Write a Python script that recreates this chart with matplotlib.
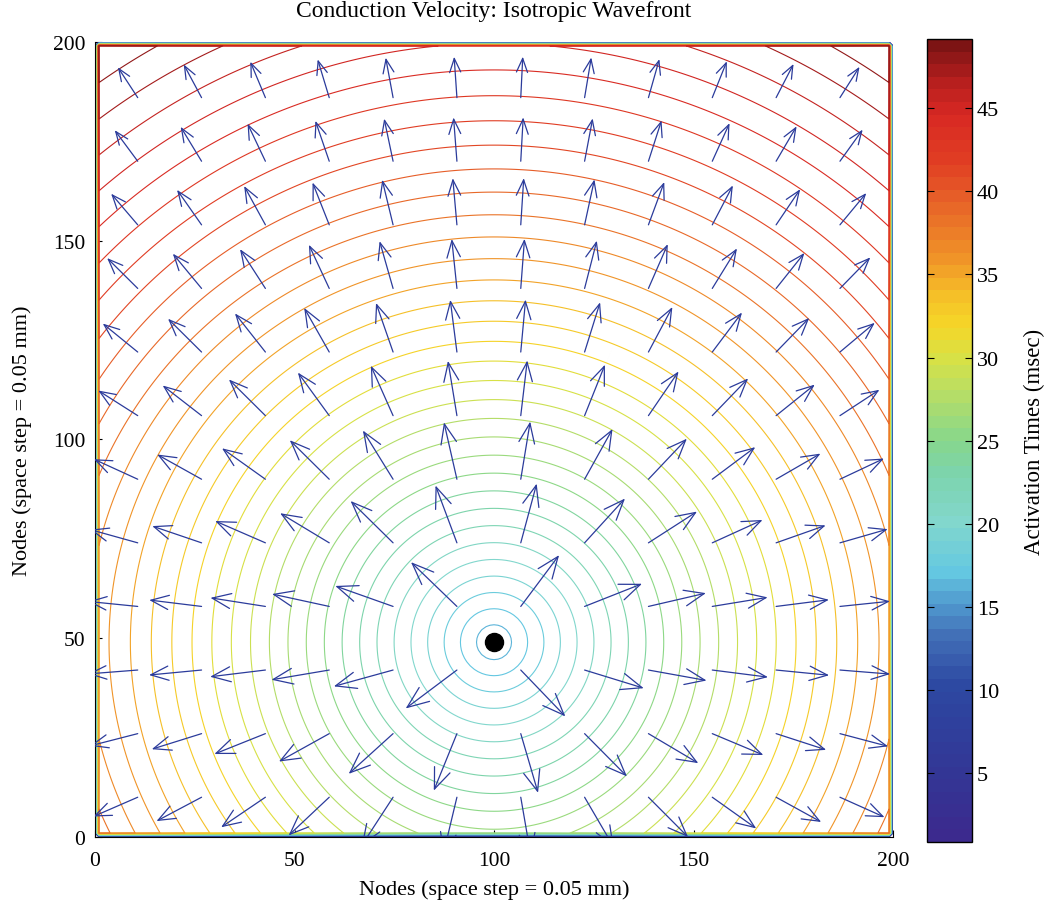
import numpy as np
import matplotlib
matplotlib.use('Agg')
import matplotlib.pyplot as plt
from matplotlib.colors import LinearSegmentedColormap, Normalize
from matplotlib.cm import ScalarMappable

plt.rcParams['font.family'] = ['Liberation Serif', 'DejaVu Serif']

# nodes of the sheet and the pacing site
n_nodes = 200
source_x, source_y = 100, 49
# activation time against distance r from the pacing site:
# T = t0 + a*r - b*r**2  (msec)
t0, a, b = 14.9, 0.2523, 3.485e-4
# contour levels (msec) and colorbar range
levels = np.arange(1, 50)
cbar_min, cbar_max = 0.85, 49.15
cbar_ticks = [5, 10, 15, 20, 25, 30, 35, 40, 45]
axis_ticks = [0, 50, 100, 150, 200]
# where the velocity arrows are drawn
arrow_x = [10.7, 26.7, 42.7, 58.7, 74.7, 90.7, 106.7, 122.7, 138.7, 154.7, 170.7, 186.7]
arrow_y = [10, 26, 42, 58, 74, 90, 106, 122, 138, 154, 170, 186]
arrow_scale = 65.8

# colormap sampled from the colorbar (value in msec, rgb)
cmap_vals = [0.85, 5, 10, 13, 15, 17, 20, 23, 25, 28, 30, 32, 34, 36, 40, 42, 45, 47, 49.15]
cmap_rgb = [(60, 42, 142), (50, 55, 150), (45, 72, 162), (65, 110, 182), (80, 152, 206),
            (100, 200, 225), (130, 215, 205), (125, 212, 172), (135, 215, 140),
            (185, 222, 100), (215, 225, 70), (245, 215, 40), (245, 190, 40),
            (240, 150, 40), (230, 92, 40), (225, 62, 35), (215, 40, 35),
            (180, 30, 30), (125, 20, 20)]

pos = [(v - cbar_min) / (cbar_max - cbar_min) for v in cmap_vals]
cols = [tuple(c / 255 for c in rgb) for rgb in cmap_rgb]
cmap = LinearSegmentedColormap.from_list('act', list(zip(pos, cols)), N=64)
norm = Normalize(vmin=cbar_min, vmax=cbar_max)

# activation time field
xs = np.arange(0, n_nodes + 1)
X, Y = np.meshgrid(xs, xs)
R = np.hypot(X - source_x, Y - source_y)
T = t0 + a * R - b * R ** 2
# unpaced border nodes
T[0, :] = 0
T[-1, :] = 0
T[:, 0] = 0
T[:, -1] = 0

fig = plt.figure(figsize=(10.5, 9.03), dpi=100)
ax = fig.add_axes([0.0905, 0.072, 0.76, 0.8804])
cax = fig.add_axes([0.8829, 0.0664, 0.0429, 0.889])

ax.contour(X, Y, T, levels=levels, cmap=cmap, norm=norm, linewidths=0.8)

# velocity arrows from the gradient of the activation time
AX, AY = np.meshgrid(arrow_x, arrow_y)
dx = AX - source_x
dy = AY - source_y
r = np.hypot(dx, dy)
g = a - 2 * b * r
U = arrow_scale * g * dx / r
V = arrow_scale * g * dy / r
px_per_unit = 0.76 * 1050 / n_nodes
for x0, y0, u, v in zip(AX.ravel(), AY.ravel(), U.ravel(), V.ravel()):
    L_pt = np.hypot(u, v) * px_per_unit * 0.72
    ann = ax.annotate('', xy=(x0 + u, y0 + v), xytext=(x0, y0), annotation_clip=False,
                      arrowprops=dict(arrowstyle='->,head_length=0.45,head_width=0.18',
                                      color='#2b3b9b', lw=0.9, shrinkA=0, shrinkB=0,
                                      mutation_scale=0.75 * L_pt))
    ann.arrow_patch.set_clip_on(True)
    ann.arrow_patch.set_clip_path(ax.patch)

ax.plot([source_x], [source_y], 'o', color='black', markersize=13, zorder=5)

ax.set_xlim(0, n_nodes)
ax.set_ylim(0, n_nodes)
ax.set_xticks(axis_ticks)
ax.set_yticks(axis_ticks)
ax.tick_params(direction='in', labelsize=15.5, length=5)
ax.tick_params(axis='x', pad=10)
ax.tick_params(axis='y', pad=7)
ax.spines['top'].set_visible(False)
ax.spines['right'].set_visible(False)
ax.set_xlabel('Nodes (space step = 0.05 mm)', fontsize=16, labelpad=7)
ax.set_ylabel('Nodes (space step = 0.05 mm)', fontsize=16, labelpad=15)
ax.set_title('Conduction Velocity: Isotropic Wavefront', fontsize=17, pad=19)

sm = ScalarMappable(norm=norm, cmap=cmap)
cb = fig.colorbar(sm, cax=cax)
cb.set_ticks(cbar_ticks)
cb.ax.tick_params(direction='in', labelsize=16, length=5, left=True, right=True)
cb.outline.set_linewidth(1)
cb.set_label('Activation Times (msec)', fontsize=16.5, labelpad=18)

fig.savefig('out.png', dpi=100)
